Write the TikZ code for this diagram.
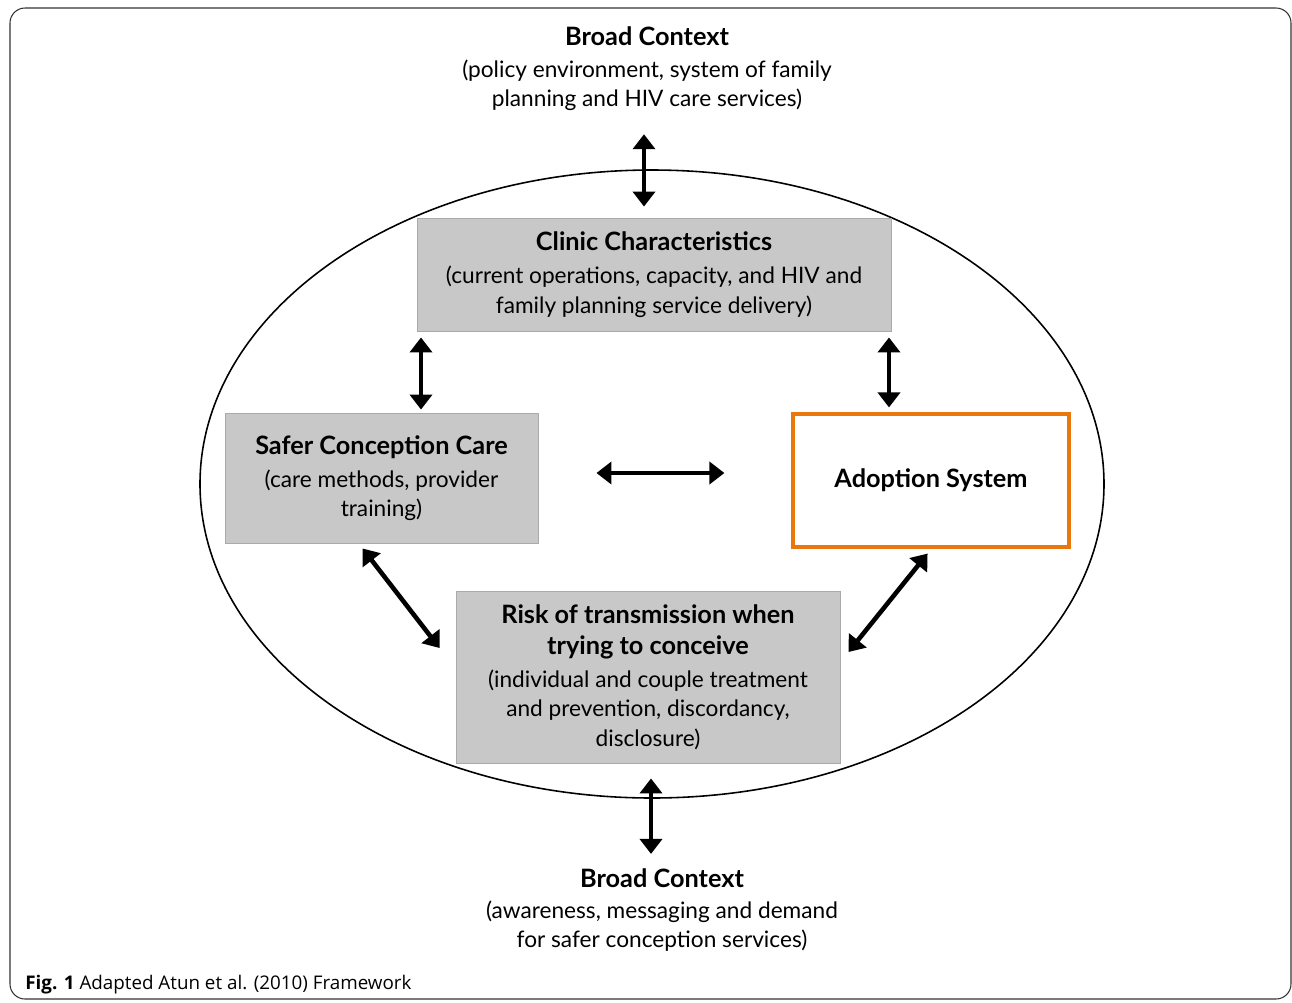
\documentclass[tikz,border=0pt]{standalone}
\usepackage{fontspec}
\newfontfamily\diagfont{Lato}
\newfontfamily\capfont{Open Sans}
\usetikzlibrary{arrows.meta,calc}
\definecolor{boxgray}{RGB}{200,200,200}
\definecolor{boxline}{RGB}{170,170,170}
\definecolor{orangeline}{RGB}{234,118,14}
\def\u{0.02cm}
\newcommand\ttl[1]{{\fontsize{14.4}{17}\selectfont\bfseries #1}}
\begin{document}
\begin{tikzpicture}[x=0.02cm,y=-0.02cm,
  txt/.style={font=\diagfont\fontsize{12.9}{16.8}\selectfont, align=center, inner sep=0pt},
  graybox/.style={txt, fill=boxgray, draw=boxline, line width=0.5pt},
  arr/.style={line width=2.6pt, {Triangle[length=0.3cm,width=0.44cm]}-{Triangle[length=0.3cm,width=0.44cm]}}
]
\useasboundingbox (0,0) rectangle (1292,1002);
\draw[line width=0.6pt, draw=black!80, rounded corners=0.3cm] (10,8) rectangle (1291,999);
% ellipse
\draw[line width=0.9pt] (652,484) ellipse [x radius=452*\u, y radius=314*\u];
% context texts
\node[txt] (ctxtop) at (647,69) {\ttl{Broad Context}\\[1pt](policy environment, system of family\\planning and HIV care services)};
\node[txt] (ctxbot) at (662,910) {\ttl{Broad Context}\\[1pt](awareness, messaging and demand\\for safer conception services)};
% boxes
\node[graybox, minimum width=474*\u, minimum height=113*\u] (clinic) at (654,274.5)
  {\ttl{Clinic Characteristics}\\[2pt](current operations, capacity, and HIV and\\family planning service delivery)};
\node[graybox, minimum width=313*\u, minimum height=130*\u] (safer) at (381.5,478)
  {\ttl{Safer Conception Care}\\[2pt](care methods, provider\\training)};
\node[txt, draw=orangeline, line width=1.8pt, fill=white, minimum width=276*\u, minimum height=133*\u] (adopt) at (931,480.5)
  {\ttl{Adoption System}};
\node[graybox, minimum width=384*\u, minimum height=172*\u] (risk) at (648,677)
  {\ttl{Risk of transmission when}\\[1pt]\ttl{trying to conceive}\\[2pt](individual and couple treatment\\and prevention, discordancy,\\disclosure)};
% arrow coordinates
\coordinate (xa) at (644,0);
\coordinate (xb) at (421,0);
\coordinate (xc) at (889,0);
\coordinate (yh) at (0,473);
\coordinate (xd) at (651,0);
% arrows
\draw[arr, shorten <=23*\u, shorten >=11*\u] (ctxtop.south -| xa) -- (clinic.north -| xa);
\draw[arr, shorten <=6*\u, shorten >=3*\u] (clinic.south -| xb) -- (safer.north -| xb);
\draw[arr, shorten <=6*\u, shorten >=5*\u] (clinic.south -| xc) -- (adopt.north -| xc);
\draw[arr, shorten <=58*\u, shorten >=67*\u] (safer.east |- yh) -- (adopt.west |- yh);
\draw[arr] ([xshift=138*\u, yshift=-5*\u]safer.south west) -- ([xshift=-16*\u, yshift=29*\u]risk.west);
\draw[arr] ([xshift=-143*\u, yshift=-5*\u]adopt.south east) -- ([xshift=8*\u, yshift=25*\u]risk.east);
\draw[arr, shorten <=15*\u, shorten >=14*\u] (risk.south -| xd) -- (ctxbot.north -| xd);
% caption
\node[anchor=base west, inner sep=0pt, font=\capfont\fontsize{10.7}{13}\selectfont] (caption) at (25,989)
  {\textbf{Fig. 1} Adapted Atun et al. (2010) Framework};
\end{tikzpicture}
\end{document}
